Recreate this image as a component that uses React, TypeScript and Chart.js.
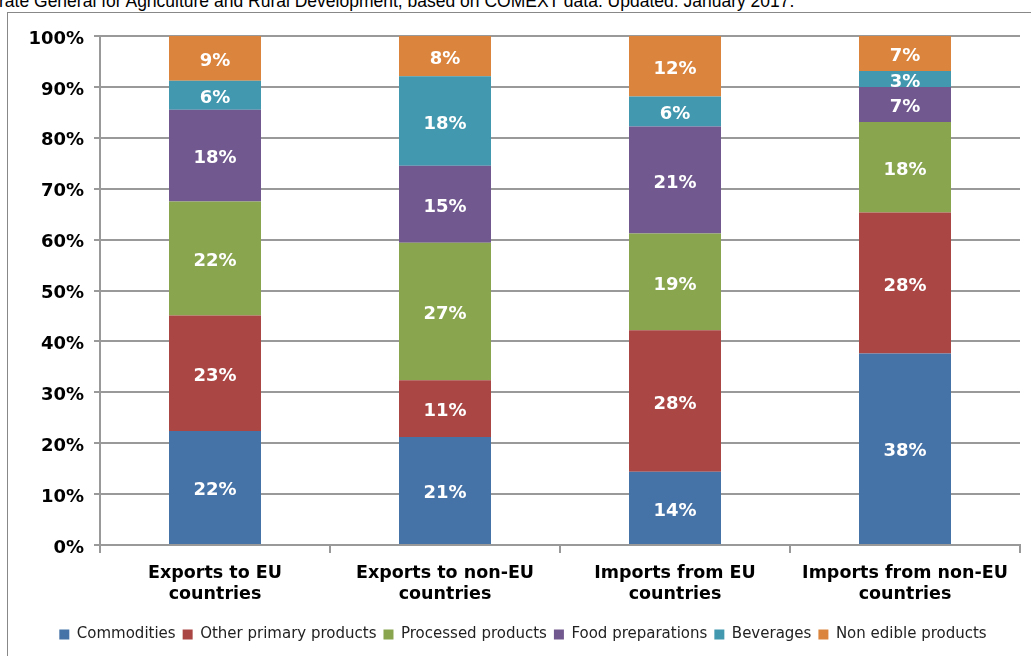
import React, { useEffect, useRef } from "react";
import { Chart, registerables } from "chart.js";

Chart.register(...registerables);

const categories = [
  ["Exports to EU", "countries"],
  ["Exports to non-EU", "countries"],
  ["Imports from EU", "countries"],
  ["Imports from non-EU", "countries"],
];
const seriesNames = [
  "Commodities",
  "Other primary products",
  "Processed products",
  "Food preparations",
  "Beverages",
  "Non edible products",
];
const commodities = [22.4, 21.2, 14.4, 37.6];
const otherPrimary = [22.7, 11.15, 27.8, 27.7];
const processed = [22.4, 27.05, 19.0, 17.8];
const foodPreparations = [18.0, 15.1, 21.0, 6.9];
const beverages = [5.7, 17.6, 5.9, 3.1];
const nonEdible = [8.8, 7.9, 11.9, 6.9];
const yTicks = [0, 10, 20, 30, 40, 50, 60, 70, 80, 90, 100];

const colors = ["#4572A7", "#AA4643", "#89A54E", "#71588F", "#4198AF", "#DB843D"];
const FONT = "DejaVu Sans, Verdana, sans-serif";

const labelPlugin = {
  id: "segLabels",
  afterDatasetsDraw(chart: any) {
    const ctx = chart.ctx;
    ctx.save();
    ctx.fillStyle = "#ffffff";
    ctx.font = "bold 18px " + FONT;
    ctx.textAlign = "center";
    ctx.textBaseline = "middle";
    chart.data.datasets.forEach((ds: any, di: number) => {
      const meta = chart.getDatasetMeta(di);
      meta.data.forEach((el: any, i: number) => {
        const v = ds.data[i];
        const yc = (el.y + el.base) / 2;
        ctx.fillText(Math.round(v) + "%", el.x, yc + 3);
      });
    });
    ctx.restore();
  },
};

export default function App() {
  const ref = useRef<HTMLCanvasElement>(null);
  useEffect(() => {
    const data = [commodities, otherPrimary, processed, foodPreparations, beverages, nonEdible];
    const chart = new Chart(ref.current!, {
      type: "bar",
      data: {
        labels: categories,
        datasets: data.map((d, i) => ({
          label: seriesNames[i],
          data: d,
          backgroundColor: colors[i],
          borderWidth: 0,
          categoryPercentage: 1,
          barPercentage: 0.4,
        })),
      },
      plugins: [labelPlugin],
      options: {
        animation: false,
        responsive: false,
        maintainAspectRatio: false,
        layout: { padding: { top: 36, right: 11, bottom: 4, left: 26 } },
        plugins: {
          tooltip: { enabled: false },
          legend: {
            position: "bottom",
            labels: {
              boxWidth: 10,
              boxHeight: 10,
              padding: 7,
              color: "#222",
              font: { family: FONT, size: 15 },
            },
          },
        },
        scales: {
          x: {
            stacked: true,
            grid: {
              offset: true,
              drawOnChartArea: false,
              color: "#999",
              lineWidth: 2,
              tickLength: 8,
            },
            border: { color: "#999", width: 2 },
            ticks: {
              color: "#000",
              font: { family: FONT, size: 17.5, weight: "bold" },
              maxRotation: 0,
              padding: 10,
            },
            afterFit: (s: any) => {
              s.height = 75;
            },
          },
          y: {
            stacked: true,
            min: 0,
            max: 100,
            afterBuildTicks: (s: any) => {
              s.ticks = yTicks.map((v) => ({ value: v }));
            },
            grid: { color: "#999", lineWidth: 2, tickLength: 6 },
            border: { color: "#999", width: 2 },
            ticks: {
              color: "#000",
              font: { family: FONT, size: 18, weight: "bold" },
              padding: 10,
              labelOffset: 3,
              callback: (v: any) => v + "%",
            },
            afterFit: (s: any) => {
              s.width = 74;
            },
          },
        },
      },
    });
    return () => chart.destroy();
  }, []);
  return (
    <div style={{ position: "fixed", left: 0, top: 0, width: 1031, height: 656, overflow: "hidden", background: "#fff" }}>
      <div
        style={{
          position: "absolute",
          left: -1,
          top: -7,
          fontFamily: "'Liberation Sans', Arial, sans-serif",
          fontSize: 17.5,
          lineHeight: "17px",
          whiteSpace: "nowrap",
          color: "#000",
        }}
      >
        rate General for Agriculture and Rural Development, based on COMEXT data. Updated: January 2017.
      </div>
      <div
        style={{
          position: "absolute",
          left: 7,
          top: 12,
          width: 1100,
          height: 700,
          border: "1px solid #888",
          boxSizing: "border-box",
        }}
      />
      <canvas ref={ref} width={1031} height={656} style={{ position: "absolute", left: 0, top: 0 }} />
    </div>
  );
}
